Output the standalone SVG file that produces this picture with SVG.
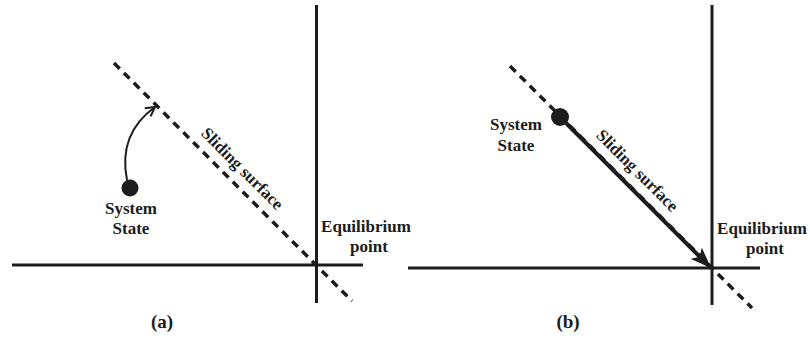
<svg xmlns="http://www.w3.org/2000/svg" width="810" height="342" viewBox="0 0 810 342">
<style>
.axis{stroke:#1c1c1c;stroke-width:3;fill:none}
.dash{stroke:#1c1c1c;stroke-width:3.5;fill:none;stroke-dasharray:8 6}
.lbl{font-family:"Liberation Serif","Times New Roman",serif;font-weight:bold;font-size:17px;fill:#1c1c1c}
.cap{font-family:"Liberation Serif","Times New Roman",serif;font-weight:bold;font-size:19px;fill:#1c1c1c}
</style>
<defs>
<marker id="openhead" markerUnits="userSpaceOnUse" markerWidth="14" markerHeight="14" refX="10" refY="6" orient="auto" viewBox="0 0 14 12">
<path d="M1,1 L10,6 L1,11" fill="none" stroke="#1c1c1c" stroke-width="2"/>
</marker>
<marker id="fillhead" markerUnits="userSpaceOnUse" markerWidth="22" markerHeight="16" refX="21" refY="8" orient="auto" viewBox="0 0 22 16">
<path d="M0,0 L21,8 L0,16 L5,8 z" fill="#1c1c1c"/>
</marker>
</defs>
<g id="panel-a">
<g id="axes-a">
<line class="axis" x1="12" y1="265" x2="363" y2="265"/>
<line class="axis" x1="316.5" y1="5" x2="316.5" y2="303"/>
</g>
<g id="surface-a">
<line class="dash" x1="114" y1="63" x2="352" y2="301"/>
<text class="lbl" transform="translate(242,169) rotate(45)" text-anchor="middle" y="5">Sliding surface</text>
</g>
<g id="state-a">
<circle cx="130" cy="188" r="8.5" fill="#1c1c1c"/>
<text class="lbl" x="131" y="214" text-anchor="middle">System</text>
<text class="lbl" x="131" y="234" text-anchor="middle">State</text>
</g>
<g id="equilibrium-a">
<text class="lbl" x="366" y="232" text-anchor="middle">Equilibrium</text>
<text class="lbl" x="369" y="252" text-anchor="middle">point</text>
</g>
<text class="cap" x="162" y="328" text-anchor="middle">(a)</text>
</g>
<g id="panel-b">
<g id="axes-b">
<line class="axis" x1="408" y1="268" x2="760" y2="268"/>
<line class="axis" x1="712" y1="5" x2="712" y2="305"/>
</g>
<g id="surface-b">
<line class="dash" x1="510" y1="66" x2="752" y2="308"/>
<text class="lbl" transform="translate(637,171) rotate(45)" text-anchor="middle" y="5">Sliding surface</text>
</g>
<g id="state-b">
<circle cx="560" cy="117" r="9" fill="#1c1c1c"/>
<text class="lbl" x="516" y="130" text-anchor="middle">System</text>
<text class="lbl" x="516" y="151" text-anchor="middle">State</text>
</g>
<g id="equilibrium-b">
<text class="lbl" x="762" y="234" text-anchor="middle">Equilibrium</text>
<text class="lbl" x="765" y="254" text-anchor="middle">point</text>
</g>
<text class="cap" x="568" y="328" text-anchor="middle">(b)</text>
</g>
<g id="connectors">
<path d="M127,180 C121,150 130,125 155,107" fill="none" stroke="#1c1c1c" stroke-width="2" marker-end="url(#openhead)"/>
<line x1="560" y1="117" x2="711" y2="268" stroke="#1c1c1c" stroke-width="4" marker-end="url(#fillhead)"/>
</g>
</svg>
